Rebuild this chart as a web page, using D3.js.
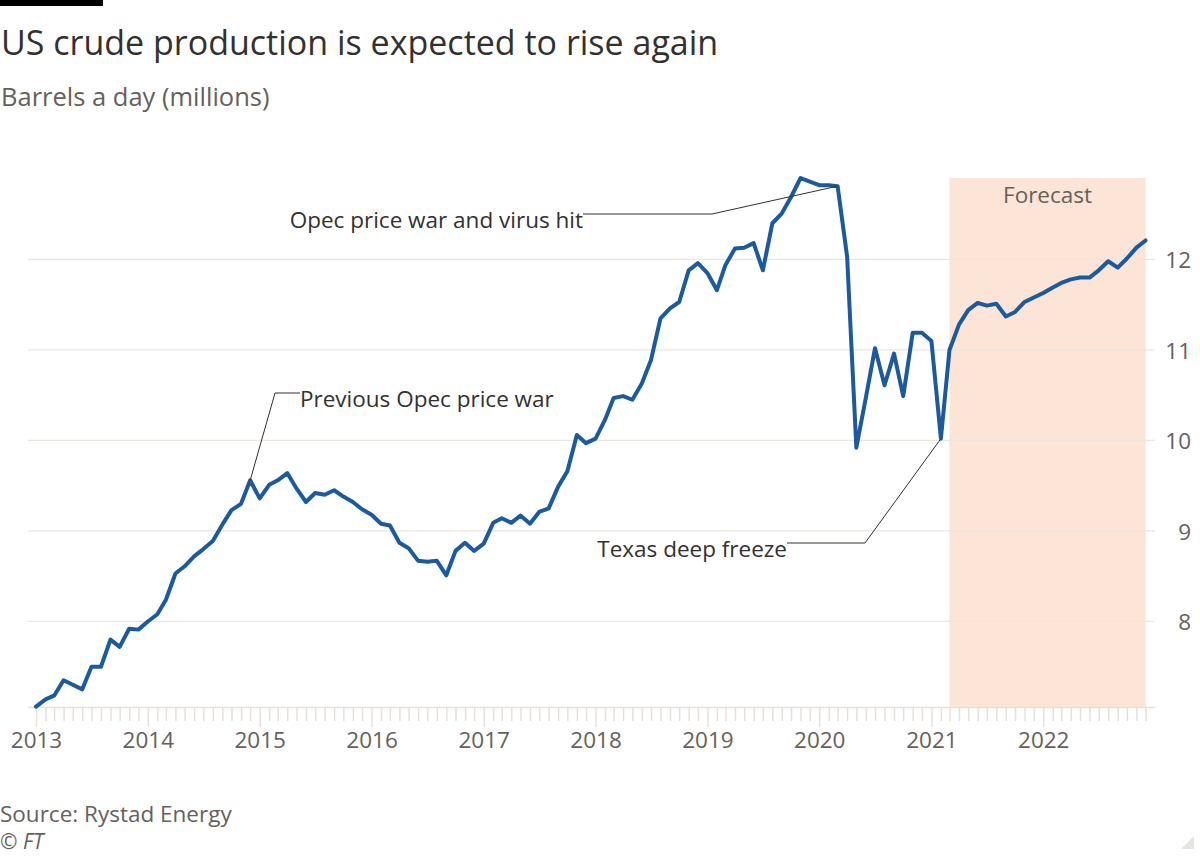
<!DOCTYPE html>
<html>
<head>
<meta charset="utf-8">
<script src="https://cdn.jsdelivr.net/npm/d3@7"></script>
<style>
  html, body { margin: 0; padding: 0; background: #fff; }
  svg text { font-family: "Open Sans", "Lato", sans-serif; }
</style>
</head>
<body>
<div id="chart"></div>
<script>
// Monthly US crude production, Jan 2013 - Dec 2022 (millions of barrels a day)
const years = [2013, 2014, 2015, 2016, 2017, 2018, 2019, 2020, 2021, 2022];
const production = [
  7.06, 7.14, 7.18, 7.35, 7.30, 7.25, 7.50, 7.50, 7.80, 7.72, 7.92, 7.91,
  8.00, 8.08, 8.24, 8.53, 8.61, 8.72, 8.80, 8.89, 9.07, 9.23, 9.30, 9.56,
  9.36, 9.51, 9.56, 9.64, 9.47, 9.32, 9.42, 9.40, 9.45, 9.38, 9.32, 9.24,
  9.18, 9.08, 9.06, 8.87, 8.81, 8.67, 8.66, 8.67, 8.51, 8.78, 8.87, 8.78,
  8.86, 9.09, 9.14, 9.09, 9.17, 9.08, 9.21, 9.25, 9.49, 9.66, 10.06, 9.97,
  10.02, 10.23, 10.47, 10.49, 10.45, 10.63, 10.89, 11.35, 11.46, 11.53, 11.88, 11.96,
  11.85, 11.66, 11.94, 12.12, 12.13, 12.18, 11.88, 12.40, 12.51, 12.69, 12.90, 12.86,
  12.82, 12.82, 12.81, 12.03, 9.92, 10.47, 11.02, 10.61, 10.96, 10.49, 11.19, 11.19,
  11.10, 10.02, 11.00, 11.28, 11.44, 11.52, 11.49, 11.51, 11.37, 11.42, 11.53, 11.58,
  11.63, 11.69, 11.74, 11.78, 11.80, 11.80, 11.88, 11.98, 11.91, 12.01, 12.13, 12.21
];
const yTicks = [8, 9, 10, 11, 12];
const forecastStart = [2021, 2]; // March 2021
const annotations = [
  { text: 'Previous Opec price war', date: [2014, 11] },
  { text: 'Opec price war and virus hit', date: [2020, 2] },
  { text: 'Texas deep freeze', date: [2021, 1] }
];

const W = 1200, H = 856;
const ink = '#33302e', grey = '#66605c', lineBlue = '#1c5a9e';
const fs = 22.5;

const data = production.map((v, i) => ({ date: new Date(2013, i, 1), value: v }));
const lastDate = data[data.length - 1].date;

const svg = d3.select('#chart').append('svg')
  .attr('width', W).attr('height', H);

const x = d3.scaleTime()
  .domain([data[0].date, lastDate])
  .range([36, 1145.6]);
const y = d3.scaleLinear()
  .domain([7.055, 12.9])
  .range([707, 178]);

// header
svg.append('rect').attr('x', 0).attr('y', 0).attr('width', 103).attr('height', 6).attr('fill', '#000');
svg.append('text').attr('x', 1).attr('y', 55)
  .attr('font-size', 34).attr('fill', ink)
  .text('US crude production is expected to rise again');
svg.append('text').attr('x', 1).attr('y', 106)
  .attr('font-size', 25.5).attr('fill', grey)
  .text('Barrels a day (millions)');

// forecast shading
const fx0 = x(new Date(forecastStart[0], forecastStart[1], 1));
svg.append('rect')
  .attr('x', fx0).attr('y', y(12.9))
  .attr('width', x(lastDate) - fx0).attr('height', y.range()[0] - y(12.9))
  .attr('fill', '#fce4d6');
svg.append('text')
  .attr('x', (fx0 + x(lastDate)) / 2).attr('y', 203)
  .attr('text-anchor', 'middle').attr('font-size', fs).attr('fill', grey)
  .text('Forecast');

// gridlines + right labels
const grid = svg.append('g');
grid.selectAll('line').data(yTicks).join('line')
  .attr('x1', 28).attr('x2', 1155)
  .attr('y1', d => y(d)).attr('y2', d => y(d))
  .attr('stroke', '#ece6e1').attr('stroke-width', 1.2);
grid.selectAll('text').data(yTicks).join('text')
  .attr('x', 1191).attr('y', d => y(d) + 9)
  .attr('text-anchor', 'end').attr('font-size', fs).attr('fill', grey)
  .text(d => d);

// x axis: monthly ticks, year labels
const axisG = svg.append('g').attr('transform', `translate(0,${y.range()[0]})`);
axisG.call(d3.axisBottom(x)
  .ticks(d3.timeMonth.every(1))
  .tickSize(14)
  .tickFormat(d => d.getMonth() === 0 ? d.getFullYear() : ''));
axisG.select('.domain').attr('d', `M28,0.5H1155`).attr('stroke', '#e6e0da').attr('stroke-width', 1.5);
axisG.selectAll('.tick line')
  .attr('stroke', '#e6e0da').attr('stroke-width', 1.5)
  .attr('y2', d => d.getMonth() === 0 ? 20 : 14);
axisG.selectAll('.tick text')
  .attr('y', 33).attr('dy', '0.35em')
  .attr('font-size', fs).attr('fill', grey)
  .style('font-family', '"Open Sans", "Lato", sans-serif');

// line
svg.append('path').datum(data)
  .attr('fill', 'none').attr('stroke', lineBlue).attr('stroke-width', 4)
  .attr('stroke-linejoin', 'round').attr('stroke-linecap', 'round')
  .attr('d', d3.line().x(d => x(d.date)).y(d => y(d.value)));

// annotations
const pt = a => {
  const d = data.find(e => e.date.getFullYear() === a.date[0] && e.date.getMonth() === a.date[1]);
  return [x(d.date), y(d.value)];
};
const ann = svg.append('g');

// Previous Opec price war
{
  const [px, py] = pt(annotations[0]);
  ann.append('path').attr('d', `M${px},${py}L275,393H300`)
    .attr('fill', 'none').attr('stroke', ink).attr('stroke-width', 1);
  ann.append('text').attr('x', 300).attr('y', 407)
    .attr('font-size', fs).attr('fill', ink).text(annotations[0].text);
}
// Opec price war and virus hit
{
  const [px, py] = pt(annotations[1]);
  ann.append('path').attr('d', `M${px},${py}L712,214H583`)
    .attr('fill', 'none').attr('stroke', ink).attr('stroke-width', 1);
  ann.append('text').attr('x', 583).attr('y', 228)
    .attr('text-anchor', 'end')
    .attr('font-size', fs).attr('fill', ink).text(annotations[1].text);
}
// Texas deep freeze
{
  const [px, py] = pt(annotations[2]);
  ann.append('path').attr('d', `M${px},${py}L865,543H787`)
    .attr('fill', 'none').attr('stroke', ink).attr('stroke-width', 1);
  ann.append('text').attr('x', 787).attr('y', 557)
    .attr('text-anchor', 'end')
    .attr('font-size', fs).attr('fill', ink).text(annotations[2].text);
}

// footer
svg.append('text').attr('x', 0).attr('y', 822)
  .attr('font-size', fs).attr('fill', grey).text('Source: Rystad Energy');
svg.append('text').attr('x', 0).attr('y', 849)
  .attr('font-size', 21).attr('font-style', 'italic').attr('fill', grey).text('© FT');
svg.append('path').attr('d', 'M1194,836L1194,849L1181,849Z').attr('fill', '#e8e4e0');
</script>
</body>
</html>
